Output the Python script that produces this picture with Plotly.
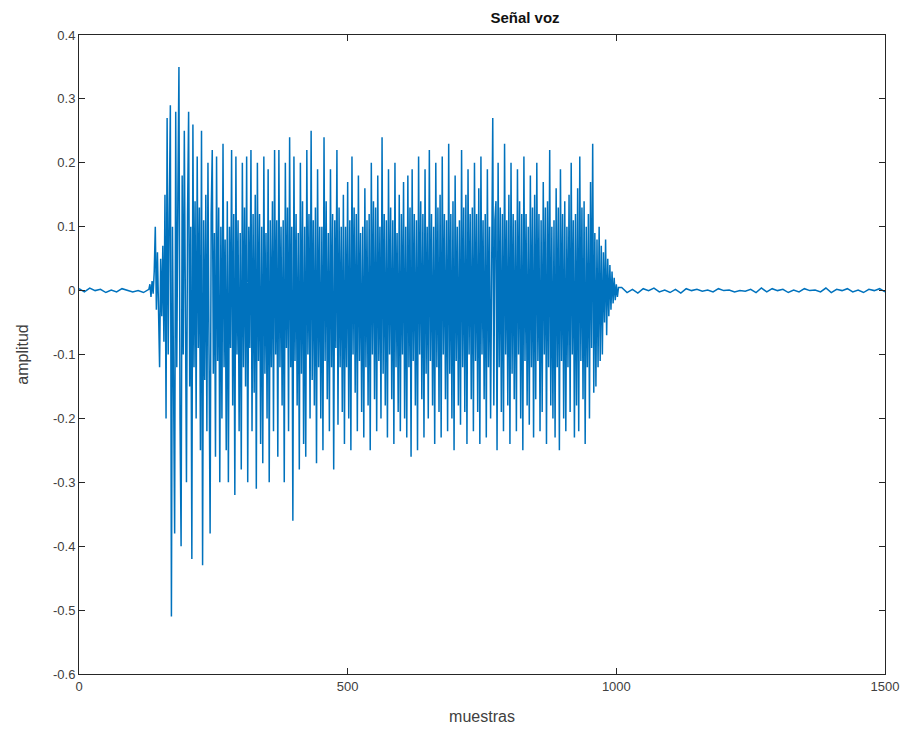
import plotly.graph_objects as go

# Pre-speech noise, samples 0..130 (step 10)
pre_x = list(range(0, 131, 10))
pre_y = [0.003, -0.002, 0.004, 0.0, 0.002, -0.003, 0.001, -0.002, 0.003, 0.0,
         -0.002, 0.0, -0.003, 0.002]

# Voiced segment, samples 132..1004 (step 2)
voz_x = list(range(132, 1005, 2))
voz_y = [
    0.01, -0.01, 0.015, -0.005, 0.03, 0.10, -0.03, 0.06, -0.05, -0.12, 0.05, -0.04, 0.07, -0.08, 0.15, -0.20, 0.27, -0.10, 0.12, 0.29,
    -0.51, 0.10, -0.15, -0.38, 0.28, -0.12, 0.15, 0.35, -0.20, -0.40, 0.18, -0.10, 0.25, -0.14, -0.30, 0.12, 0.28, -0.15, 0.10, -0.42,
    0.26, -0.12, 0.14, -0.20, 0.21, -0.09, 0.13, -0.25, 0.25, -0.43, 0.11, -0.14, 0.15, -0.22, 0.20, -0.10, -0.38, 0.12, 0.22, -0.13,
    0.09, -0.26, 0.21, -0.11, 0.13, -0.30, 0.10, -0.20, 0.23, -0.12, 0.08, -0.25, 0.14, -0.30, 0.10, -0.09, 0.22, -0.18, 0.12, -0.32,
    0.21, -0.10, 0.11, -0.22, 0.09, -0.28, 0.20, -0.12, 0.13, -0.15, 0.21, -0.30, 0.10, -0.09, 0.22, -0.22, 0.12, -0.16, 0.15, -0.31,
    0.20, -0.11, 0.12, -0.24, 0.10, -0.27, 0.21, -0.13, 0.09, -0.20, 0.19, -0.30, 0.11, -0.12, 0.14, -0.22, 0.22, -0.10, 0.11, -0.26,
    0.22, -0.12, 0.10, -0.18, 0.11, -0.30, 0.20, -0.09, 0.13, -0.22, 0.24, -0.12, 0.10, -0.36, 0.21, -0.11, 0.12, -0.18, 0.09, -0.28,
    0.20, -0.13, 0.14, -0.24, 0.10, -0.26, 0.22, -0.10, 0.12, -0.20, 0.25, -0.14, 0.11, -0.18, 0.13, -0.27, 0.19, -0.12, 0.10, -0.20,
    0.10, -0.25, 0.24, -0.11, 0.14, -0.17, 0.09, -0.22, 0.19, -0.12, 0.12, -0.28, 0.11, -0.09, 0.22, -0.21, 0.13, -0.12, 0.10, -0.19,
    0.15, -0.24, 0.10, -0.12, 0.17, -0.20, 0.11, -0.25, 0.21, -0.10, 0.13, -0.16, 0.12, -0.22, 0.18, -0.11, 0.09, -0.19, 0.10, -0.23,
    0.16, -0.12, 0.11, -0.18, 0.12, -0.25, 0.20, -0.10, 0.14, -0.17, 0.13, -0.22, 0.18, -0.11, 0.10, -0.20, 0.24, -0.13, 0.12, -0.18,
    0.11, -0.23, 0.19, -0.10, 0.13, -0.17, 0.11, -0.24, 0.20, -0.12, 0.09, -0.19, 0.15, -0.22, 0.12, -0.10, 0.17, -0.20, 0.10, -0.23,
    0.18, -0.12, 0.13, -0.26, 0.19, -0.11, 0.12, -0.18, 0.11, -0.25, 0.21, -0.10, 0.14, -0.17, 0.12, -0.23, 0.19, -0.13, 0.10, -0.20,
    0.22, -0.11, 0.12, -0.18, 0.10, -0.24, 0.20, -0.12, 0.13, -0.19, 0.15, -0.23, 0.21, -0.10, 0.12, -0.17, 0.11, -0.22, 0.23, -0.13,
    0.12, -0.20, 0.14, -0.25, 0.18, -0.11, 0.10, -0.18, 0.11, -0.21, 0.22, -0.12, 0.13, -0.19, 0.15, -0.24, 0.19, -0.10, 0.12, -0.17,
    0.13, -0.22, 0.20, -0.11, 0.12, -0.19, 0.16, -0.24, 0.21, -0.10, 0.11, -0.17, 0.12, -0.23, 0.19, -0.12, 0.10, -0.20, 0.14, 0.27,
    -0.18, 0.11, 0.14, -0.25, 0.20, -0.12, 0.13, -0.19, 0.12, -0.22, 0.23, -0.10, 0.11, -0.18, 0.15, -0.24, 0.20, -0.13, 0.12, -0.17,
    0.11, -0.22, 0.19, -0.10, 0.14, -0.20, 0.12, -0.25, 0.21, -0.11, 0.12, -0.18, 0.10, -0.21, 0.18, -0.12, 0.13, -0.23, 0.15, -0.17,
    0.20, -0.11, 0.12, -0.22, 0.11, -0.19, 0.17, -0.10, 0.13, -0.24, 0.14, -0.12, 0.22, -0.18, 0.10, -0.20, 0.11, -0.23, 0.16, -0.12,
    0.13, -0.25, 0.19, -0.11, 0.12, -0.20, 0.14, -0.22, 0.10, -0.12, 0.15, -0.19, 0.20, -0.10, 0.11, -0.23, 0.12, -0.18, 0.16, -0.22,
    0.21, -0.11, 0.13, -0.17, 0.14, -0.24, 0.10, -0.12, 0.12, -0.20, 0.17, -0.09, 0.23, -0.16, 0.09, -0.15, 0.08, -0.12, 0.10, -0.11,
    0.07, -0.10, 0.06, -0.05, 0.08, -0.07, 0.05, -0.04, 0.04, -0.03, 0.03, -0.02, 0.02, -0.015, 0.01, -0.01, 0.005,
]

# Post-speech noise, samples 1010..1500 (step 10)
post_x = list(range(1010, 1501, 10))
post_y = [0.005, -0.003, 0.002, -0.004, 0.003, 0.0, 0.004, -0.002, 0.001, -0.003,
          0.002, -0.004, 0.003, 0.0, 0.002, -0.001, 0.001, -0.002, 0.003, 0.0,
          0.001, -0.002, 0.0, -0.001, 0.002, -0.003, 0.004, -0.002, 0.003, 0.0,
          0.002, -0.003, 0.001, -0.002, 0.003, 0.0, 0.001, -0.002, 0.004, -0.003,
          0.002, 0.0, 0.003, -0.002, 0.001, -0.003, 0.002, 0.0, 0.003, -0.002]

x_ticks = [0, 500, 1000, 1500]
x_tick_text = ["0", "500", "1000", "1500"]
y_ticks = [0.4, 0.3, 0.2, 0.1, 0, -0.1, -0.2, -0.3, -0.4, -0.5, -0.6]
y_tick_text = ["0.4", "0.3", "0.2", "0.1", "0", "-0.1", "-0.2", "-0.3", "-0.4", "-0.5", "-0.6"]

xs = pre_x + voz_x + post_x
ys = pre_y + voz_y + post_y

fig = go.Figure()
fig.add_trace(go.Scatter(x=xs, y=ys, mode="lines",
                         line=dict(color="#0072BD", width=1.5), showlegend=False))

axis_common = dict(showline=True, linecolor="#262626", linewidth=1, mirror="ticks",
                   ticks="inside", ticklen=6, tickcolor="#262626", showgrid=False,
                   zeroline=False, tickfont=dict(family="Liberation Sans", size=13, color="#404040"))

fig.update_xaxes(range=[0, 1500], tickvals=x_ticks, ticktext=x_tick_text,
                 title=dict(text="muestras", font=dict(family="Liberation Sans", size=16, color="#404040"), standoff=18),
                 **axis_common)
fig.update_yaxes(range=[-0.6, 0.4], tickvals=y_ticks, ticktext=y_tick_text,
                 title=dict(text="amplitud", font=dict(family="Liberation Sans", size=16, color="#404040"), standoff=20),
                 **axis_common)

fig.update_layout(
    width=911, height=735,
    margin=dict(l=79, r=19, t=35, b=58),
    paper_bgcolor="white", plot_bgcolor="white",
    title=dict(text="<b>Señal voz</b>", x=(79 + 446) / 911, xanchor="center", y=1 - 18 / 735, yanchor="middle",
               font=dict(family="Liberation Sans", size=15, color="#111111")),
)

fig.write_html("out.html")
